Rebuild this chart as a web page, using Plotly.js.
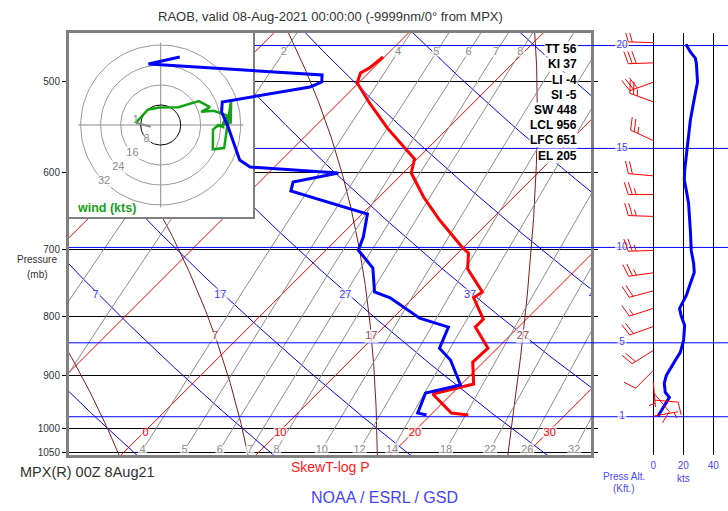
<!DOCTYPE html>
<html><head><meta charset="utf-8">
<script src="https://cdn.plot.ly/plotly-3.0.1.min.js"></script>
<style>html,body{margin:0;padding:0;background:#fff}</style>
</head><body>
<div id="chart" style="width:728px;height:511px"></div>
<script>
// ---------------- DATA ----------------
const tempP = [973.8, 969.9, 933.8, 920.9, 915.4, 876.1, 852.1, 817.0, 804.1, 770.6, 761.5, 727.3, 704.8, 697.7, 659.8, 630.1, 600.6, 584.0, 571.4, 549.1, 522.2, 501.7, 491.8, 486.9, 476.4];
const tempC = [22.8, 21.4, 18.6, 20.1, 20.9, 19.2, 19.3, 16.8, 16.8, 14.5, 14.7, 11.9, 10.8, 10.0, 6.2, 3.3, 0.6, -0.2, -1.7, -4.5, -7.7, -10.1, -10.6, -10.3, -10.1];
const dewP = [973.8, 969.9, 932.0, 917.2, 872.6, 852.1, 817.0, 802.5, 770.6, 761.5, 726.0, 700.6, 682.6, 652.0, 622.6, 611.5, 600.6, 593.5, 585.2, 571.4, 560.2, 545.8, 531.8, 521.2, 505.8, 500.8, 493.8, 483.1, 476.4];
const dewC = [19.7, 18.9, 18.0, 20.0, 17.4, 15.7, 14.8, 12.0, 8.3, 6.7, 4.8, 2.4, 1.8, 0.4, -7.0, -7.5, -4.8, -11.8, -13.1, -14.3, -15.3, -16.6, -18.0, -18.7, -13.3, -12.8, -13.3, -27.0, -25.2];

const windP   = [976, 945, 931, 912, 891, 856, 816, 787, 760, 733, 701, 655, 627, 604, 563, 521, 501, 482, 463];
const windDir = [80, 95, 140, 175, 225, 238, 250, 252, 255, 262, 268, 272, 270, 275, 295, 290, 250, 268, 272];
const windKts = [4, 10, 8, 7, 10, 18, 21, 17, 22, 27, 25, 25, 23, 21, 23, 27, 30, 28, 22];

const profP   = [976.3, 968.5, 951.3, 939.9, 930.6, 914.2, 899.7, 887.1, 873.1, 859.3, 838.9, 814.3, 798.1, 787.0, 777.2, 766.9, 748.8, 732.5, 719.4, 701.0, 673.4, 638.0, 621.6, 609.3, 597.3, 571.6, 562.6, 540.5, 521.1, 509.1, 500.7, 482.3, 477.5, 471.6, 464.4];
const profKts = [3.1, 4.7, 8.0, 10.7, 8.0, 7.3, 8.7, 11.3, 14.7, 18.0, 20.2, 20.9, 18.5, 17.5, 19.8, 22.0, 24.7, 27.3, 26.9, 25.3, 24.7, 23.5, 22.0, 20.7, 20.9, 22.4, 22.9, 24.7, 26.9, 28.7, 29.5, 28.7, 28.0, 24.7, 21.8];

const pressTicks = [500, 600, 700, 800, 900, 1000, 1050];
const isotherms = [-80, -70, -60, -50, -40, -30, -20, -10, 0, 10, 20, 30, 40, 50];
const isothermLabels = [0, 10, 20, 30];
const dryAdiabats = [-33, -23, -13, -3, 7, 17, 27, 37, 47, 57, 67, 77];
const dryLabels = [7, 17, 27, 37, 47];
const moistAdiabats = [-13, -3, 7, 17, 27, 37];
const moistLabels = [7, 17, 27];
const mixRatios = [1.5, 2, 4, 5, 6, 7, 8, 10, 12, 14, 18, 22, 26, 32];
const mixTopLabels = [2, 4, 5, 6, 7, 8];
const mixBottomLabels = [4, 5, 6, 7, 8, 10, 12, 14, 18, 22, 26, 32];
const kftLevels = [1, 5, 10, 15, 20];
const hodoRings = [8, 16, 24, 32];
const speedTicks = [0, 20, 40];
const indexNames = ['TT', 'KI', 'LI', 'SI', 'SW', 'LCL', 'LFC', 'EL'];
const indexValues = [56, 37, -4, -5, 448, 956, 651, 205];

// ---------------- GEOMETRY ----------------
const W = 728, H = 511;
const FONT = 'Liberation Sans, Arial, sans-serif';
const SKEW = 85.6;                      // deg C per decade of pressure
const X_RANGE = [-5.854, 32.899];
const Y_RANGE = [3.02316, 2.65715];
const PX_PER_DEC = 422 / (Y_RANGE[0] - Y_RANGE[1]);
const PX_PER_KT = 1.5;
const SPD_RANGE = [-41.53, 49.8];
const HODO_X = [-36.68, 36.92], HODO_Y = [-36.8, 36.8];
const dom = (a, b) => [a / W, b / W];
const vdom = (top, bot) => [1 - bot / H, 1 - top / H];

function skewX(T, p) { return T + SKEW * Math.log10(1000 / p); }
function dryT(th, p) { return (th + 273.15) * Math.pow(p / 1000, 0.2857) - 273.15; }
function mixT(w, p) { const es = w * p / (622 + w); const l = Math.log(es / 6.112); return 243.5 * l / (17.67 - l); }
function satLapse(p, Tc) {
  const T = Tc + 273.15, es = 6.112 * Math.exp(17.67 * Tc / (Tc + 243.5));
  const rs = 0.622 * es / (p - es);
  return (287.04 * T + 2.501e6 * rs) / (p * (1005.7 + 2.501e6 * 2.501e6 * rs * 0.622 / (287.04 * T * T)));
}
function moistCurve(tw) {
  let up = [[1000, tw]], p = 1000, t = tw, dp = -2;
  while (p > 440) { const k1 = satLapse(p, t); const k2 = satLapse(p + dp / 2, t + k1 * dp / 2); t += k2 * dp; p += dp; up.push([p, t]); }
  let dn = []; p = 1000; t = tw; dp = 2;
  while (p < 1062) { const k1 = satLapse(p, t); const k2 = satLapse(p + dp / 2, t + k1 * dp / 2); t += k2 * dp; p += dp; dn.unshift([p, t]); }
  return dn.concat(up);
}
function moistAt(tw, ptarget) {
  const c = moistCurve(tw); let best = c[0];
  c.forEach(q => { if (Math.abs(q[0] - ptarget) < Math.abs(best[0] - ptarget)) best = q; });
  return best[1];
}
function kftToP(k) { return 1013.25 * Math.pow(1 - 6.8756e-6 * k * 1000, 5.2559); }

const pSamples = []; for (let p = 1062; p >= 440; p -= 4) pSamples.push(p);

// ---------------- SKEW-T GRID (xy) ----------------
const traces = [];
function family(list, fn, pList, color) {
  const xs = [], ys = [];
  list.forEach(v => { pList.forEach(p => { xs.push(fn(v, p)); ys.push(p); }); xs.push(null); ys.push(null); });
  return { x: xs, y: ys, mode: 'lines', line: { color: color, width: 1 }, hoverinfo: 'skip', xaxis: 'x', yaxis: 'y' };
}
traces.push(family(isotherms, (T, p) => skewX(T, p), [1062, 440], '#ff0000'));
traces.push(family(dryAdiabats, (th, p) => skewX(dryT(th, p), p), pSamples, '#0000ff'));
(function () {
  const xs = [], ys = [];
  moistAdiabats.forEach(tw => { moistCurve(tw).forEach(q => { xs.push(skewX(q[1], q[0])); ys.push(q[0]); }); xs.push(null); ys.push(null); });
  traces.push({ x: xs, y: ys, mode: 'lines', line: { color: '#7a1e1e', width: 1 }, hoverinfo: 'skip', xaxis: 'x', yaxis: 'y' });
})();
const mixP = pSamples.filter(p => p <= 1038);
traces.push(family(mixRatios, (w, p) => skewX(mixT(w, p), p), mixP, '#8c8c8c'));
// height (kft) lines across skew-T
(function () {
  const xs = [], ys = [];
  kftLevels.forEach(k => { const p = kftToP(k); xs.push(X_RANGE[0], X_RANGE[1], null); ys.push(p, p, null); });
  traces.push({ x: xs, y: ys, mode: 'lines', line: { color: '#0000ff', width: 1 }, hoverinfo: 'skip', xaxis: 'x', yaxis: 'y' });
})();
function labelTrace(xs, ys, texts, color, size, ax, ay) {
  return {
    x: xs, y: ys, text: texts, mode: 'markers+text', textposition: 'middle center',
    textfont: { family: FONT, size: size, color: color },
    marker: { symbol: 'square', color: '#ffffff', size: texts.map(t => String(t).length > 1 ? 14 : 9), line: { width: 0 } },
    hoverinfo: 'skip', xaxis: ax || 'x', yaxis: ay || 'y', cliponaxis: true
  };
}
traces.push(labelTrace(isothermLabels.map(T => skewX(T, 1010) + 0.2), isothermLabels.map(() => 1010), isothermLabels.map(String), '#ff0000', 11));
traces.push(labelTrace(dryLabels.map(th => skewX(dryT(th, 767), 767) - 0.3), dryLabels.map(() => 767), dryLabels.map(String), '#3a3aff', 11));
traces.push(labelTrace(moistLabels.map(tw => skewX(moistAt(tw, 832), 832)), moistLabels.map(() => 832), moistLabels.map(String), '#9a4a4a', 11));
traces.push(labelTrace(mixTopLabels.map(w => skewX(mixT(w, 471.7), 471.7)), mixTopLabels.map(() => 471.7), mixTopLabels.map(String), '#8c8c8c', 11));
traces.push(labelTrace(mixBottomLabels.map(w => skewX(mixT(w, 1044), 1044)), mixBottomLabels.map(() => 1044), mixBottomLabels.map(String), '#8c8c8c', 11));

// ---------------- HODOGRAPH (x2y2) ----------------
traces.push({ x: [HODO_X[0], HODO_X[1], HODO_X[1], HODO_X[0], HODO_X[0]], y: [HODO_Y[0], HODO_Y[0], HODO_Y[1], HODO_Y[1], HODO_Y[0]],
  mode: 'lines', fill: 'toself', fillcolor: '#ffffff', line: { width: 0, color: '#ffffff' }, hoverinfo: 'skip', xaxis: 'x2', yaxis: 'y2' });
const outer = hodoRings[hodoRings.length - 1] + 1;
traces.push({ x: [-outer, outer, null, 0, 0], y: [0, 0, null, -outer, outer], mode: 'lines', line: { color: '#8c8c8c', width: 1 }, hoverinfo: 'skip', xaxis: 'x2', yaxis: 'y2' });
hodoRings.forEach((r, i) => {
  const xs = [], ys = [];
  for (let a = 0; a <= 360; a += 3) { xs.push(r * Math.cos(a * Math.PI / 180)); ys.push(r * Math.sin(a * Math.PI / 180)); }
  traces.push({ x: xs, y: ys, mode: 'lines', line: { color: i === 0 ? '#000000' : '#999999', width: 1 }, hoverinfo: 'skip', xaxis: 'x2', yaxis: 'y2' });
});
traces.push(labelTrace(hodoRings.map(r => -r * 0.7071), hodoRings.map(r => -r * 0.7071), hodoRings.map(String), '#8c8c8c', 11, 'x2', 'y2'));
const hu = windDir.map((d, i) => -windKts[i] * Math.sin(d * Math.PI / 180));
const hv = windDir.map((d, i) => -windKts[i] * Math.cos(d * Math.PI / 180));
traces.push({ x: hu.slice(0, 2), y: hv.slice(0, 2), mode: 'lines', line: { color: '#8c8c8c', width: 2 }, hoverinfo: 'skip', xaxis: 'x2', yaxis: 'y2' });
traces.push({ x: hu.slice(1), y: hv.slice(1), mode: 'lines', line: { color: '#14a314', width: 2.5 }, hoverinfo: 'skip', xaxis: 'x2', yaxis: 'y2' });
traces.push({ x: [hu[1]], y: [hv[1] + 1.2], text: ['1'], mode: 'text', textfont: { family: FONT, size: 11, color: '#8c8c8c' }, hoverinfo: 'skip', xaxis: 'x2', yaxis: 'y2' });

// ---------------- SOUNDING CURVES (x3y3, above hodograph) ----------------
traces.push({ x: tempC.map((t, i) => skewX(t, tempP[i])), y: tempP, mode: 'lines', line: { color: '#ff0000', width: 3 }, xaxis: 'x3', yaxis: 'y3', name: 'T' });
traces.push({ x: dewC.map((t, i) => skewX(t, dewP[i])), y: dewP, mode: 'lines', line: { color: '#0000ff', width: 3 }, xaxis: 'x3', yaxis: 'y3', name: 'Td' });

// ---------------- WIND PANEL (x4y4) ----------------
(function () {
  const xs = [], ys = [];
  kftLevels.forEach(k => { const p = kftToP(k); xs.push(SPD_RANGE[0], SPD_RANGE[1], null); ys.push(p, p, null); });
  traces.push({ x: xs, y: ys, mode: 'lines', line: { color: '#0000ff', width: 1 }, hoverinfo: 'skip', xaxis: 'x4', yaxis: 'y4' });
})();
traces.push(labelTrace(kftLevels.map(() => -20.9), kftLevels.map(kftToP), kftLevels.map(String), '#4040ff', 10, 'x4', 'y4'));
traces.push({ x: profKts, y: profP, mode: 'lines', line: { color: '#0000ff', width: 3 }, xaxis: 'x4', yaxis: 'y4', name: 'speed' });
(function () {
  const L = 25, F = 13, S = 4, ANG = 72 * Math.PI / 180;
  const xs = [], ys = [];
  windP.forEach((p0, i) => {
    const d = windDir[i] * Math.PI / 180;
    const sx = Math.sin(d), sy = -Math.cos(d);
    const nx = -sy, ny = sx;
    const fx = Math.cos(ANG) * sx + Math.sin(ANG) * nx, fy = Math.cos(ANG) * sy + Math.sin(ANG) * ny;
    const pt = (px, py) => { xs.push(px / PX_PER_KT); ys.push(p0 * Math.pow(10, py / PX_PER_DEC)); };
    const brk = () => { xs.push(null); ys.push(null); };
    pt(0, 0); pt(sx * L, sy * L); brk();
    const r = Math.round(windKts[i] / 5) * 5;
    const n10 = Math.floor(r / 10), n5 = (r % 10) >= 5 ? 1 : 0;
    let pos = L;
    for (let k = 0; k < n10; k++) { pt(sx * pos, sy * pos); pt(sx * pos + fx * F, sy * pos + fy * F); brk(); pos -= S; }
    if (n5) { if (n10 === 0) pos -= S; pt(sx * pos, sy * pos); pt(sx * pos + fx * F / 2, sy * pos + fy * F / 2); brk(); }
  });
  traces.push({ x: xs, y: ys, mode: 'lines', line: { color: '#ff0000', width: 1 }, hoverinfo: 'skip', xaxis: 'x4', yaxis: 'y4' });
})();

// ---------------- LAYOUT ----------------
const hidden = { showgrid: false, zeroline: false, showticklabels: false, ticks: '', fixedrange: true };
const ann = (text, x, y, opts) => Object.assign({ text: text, x: x / W, y: 1 - y / H, xref: 'paper', yref: 'paper', showarrow: false,
  xanchor: 'center', yanchor: 'middle', font: { family: FONT, size: 10, color: '#333' } }, opts || {});
const annotations = [
  ann('RAOB, valid 08-Aug-2021 00:00:00 (-9999nm/0° from MPX)', 330, 17, { font: { family: FONT, size: 13, color: '#333' } }),
  ann('Pressure', 37, 259), ann('(mb)', 37, 274),
  ann('MPX(R) 00Z 8Aug21', 18, 472, { xanchor: 'left', font: { family: FONT, size: 14.5, color: '#333' } }),
  ann('SkewT-log P', 330, 467, { font: { family: FONT, size: 14, color: '#ff2020' } }),
  ann('NOAA / ESRL / GSD', 384, 497, { font: { family: FONT, size: 16, color: '#4444ff' } }),
  ann('Press Alt.', 624, 476, { font: { family: FONT, size: 10, color: '#4a4aff' } }),
  ann('(Kft.)', 624, 488, { font: { family: FONT, size: 10, color: '#4a4aff' } }),
  ann('kts', 683, 478, { font: { family: FONT, size: 10, color: '#4a4aff' } }),
  ann('<b>wind (kts)</b>', 106, 208, { font: { family: FONT, size: 12.5, color: '#14a314' } })
];
const idxY = [49, 64, 80, 95, 110, 125, 140, 156];
indexNames.forEach((n, i) => annotations.push(ann('<b>' + n + ' ' + indexValues[i] + '</b>', 578, idxY[i],
  { xanchor: 'right', bgcolor: '#ffffff', borderpad: 0, font: { family: FONT, size: 12, color: '#000' } })));

const layout = {
  width: W, height: H, margin: { l: 0, r: 0, t: 0, b: 0, pad: 0 },
  paper_bgcolor: '#ffffff', plot_bgcolor: 'rgba(0,0,0,0)', showlegend: false, hovermode: false,
  xaxis: Object.assign({}, hidden, { domain: dom(69, 591), range: X_RANGE, anchor: 'y', showline: true, mirror: true, linecolor: '#808080', linewidth: 3 }),
  yaxis: { domain: vdom(33, 455), type: 'log', range: Y_RANGE, anchor: 'x', tickvals: pressTicks, ticktext: pressTicks.map(String),
    ticks: 'outside', ticklen: 4, tickcolor: '#000', tickwidth: 1, showgrid: true, gridcolor: '#000', gridwidth: 1, zeroline: false,
    showline: true, mirror: 'ticks', linecolor: '#808080', linewidth: 3, tickfont: { family: FONT, size: 10, color: '#333' }, fixedrange: true },
  xaxis2: Object.assign({}, hidden, { domain: dom(69, 253), range: HODO_X, anchor: 'y2', showline: true, mirror: true, linecolor: '#808080', linewidth: 2 }),
  yaxis2: Object.assign({}, hidden, { domain: vdom(33, 217), range: HODO_Y, anchor: 'x2', showline: true, mirror: true, linecolor: '#808080', linewidth: 2 }),
  xaxis3: Object.assign({}, hidden, { domain: dom(69, 591), range: X_RANGE, anchor: 'y3', visible: false }),
  yaxis3: Object.assign({}, hidden, { domain: vdom(33, 455), type: 'log', range: Y_RANGE, anchor: 'x3', visible: false }),
  xaxis4: { domain: dom(591, 728), range: SPD_RANGE, anchor: 'y4', tickvals: speedTicks, showgrid: true, gridcolor: '#000', gridwidth: 1,
    zeroline: false, ticks: '', showline: false, ticklabelstandoff: 3, tickfont: { family: FONT, size: 10, color: '#4a4aff' }, fixedrange: true },
  yaxis4: Object.assign({}, hidden, { domain: vdom(33, 455), type: 'log', range: Y_RANGE, anchor: 'x4' }),
  annotations: annotations
};
Plotly.newPlot('chart', traces, layout, { displayModeBar: false, staticPlot: true });
</script>
</body></html>
